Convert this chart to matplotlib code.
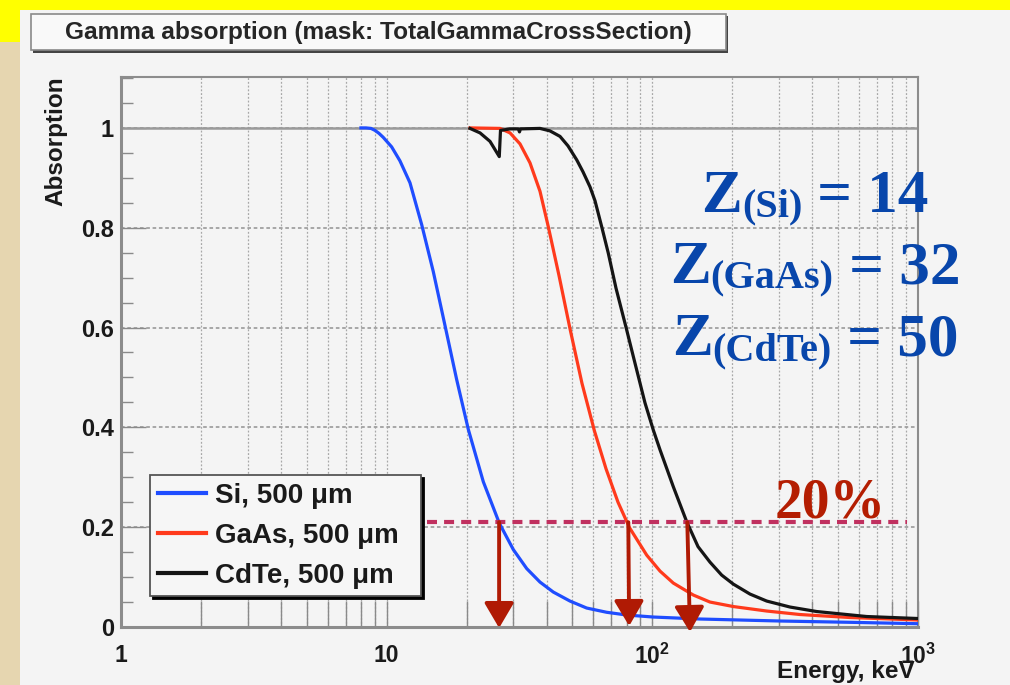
import numpy as np
import matplotlib
matplotlib.use("Agg")
import matplotlib.pyplot as plt
from matplotlib.patches import Rectangle
from matplotlib.ticker import FixedLocator, FixedFormatter, LogLocator, MultipleLocator, NullFormatter
from matplotlib.transforms import IdentityTransform

# ---------------- data ----------------
si_energy = [8.0, 8.36, 8.73, 9.04, 9.36, 9.71, 10.44, 11.22, 12.24, 13.55, 14.98, 16.58, 18.34,
             20.29, 23.11, 26.55, 29.98, 33.67, 37.77, 42.39, 48.97, 56.6, 67.3, 80.1, 100.6,
             151.1, 302.4, 554.6, 1000]
si_abs = [1.0, 1.0, 0.999, 0.995, 0.989, 0.981, 0.962, 0.934, 0.890, 0.806, 0.712, 0.604, 0.496,
          0.396, 0.291, 0.208, 0.155, 0.117, 0.090, 0.070, 0.052, 0.038, 0.0295, 0.024, 0.020,
          0.016, 0.012, 0.0094, 0.0066]

gaas_energy = [20.59, 26.71, 29.13, 31.76, 34.63, 37.77, 40.59, 44.54, 48.97, 54.36, 60.46,
               66.94, 74.27, 82.04, 95.24, 106.9, 119.95, 142.7, 164.8, 201.7, 269.4, 359.6,
               554.6, 1000]
gaas_abs = [1.0, 0.999, 0.990, 0.968, 0.930, 0.873, 0.802, 0.704, 0.598, 0.488, 0.394, 0.317,
            0.250, 0.199, 0.144, 0.112, 0.088, 0.064, 0.050, 0.041, 0.032, 0.025, 0.019, 0.014]

cdte_energy = [20.59, 22.46, 24.49, 26.54, 26.82, 29.13, 31.3, 31.62, 31.89, 37.77, 41.19,
               44.92, 48.14, 51.92, 54.83, 58.25, 60.84, 64.48, 68.27, 72.98, 80.09, 84.8,
               93.84, 100.8, 106.9, 119.95, 134.7, 148.6, 164.8, 182.4, 201.7, 233.1, 269.4,
               329.8, 415.6, 641, 1000]
cdte_abs = [0.999, 0.990, 0.973, 0.9425, 0.995, 0.998, 0.998, 0.992, 0.998, 0.999, 0.994,
            0.983, 0.964, 0.936, 0.912, 0.882, 0.854, 0.802, 0.749, 0.679, 0.595, 0.542,
            0.449, 0.395, 0.355, 0.281, 0.211, 0.161, 0.130, 0.104, 0.086, 0.066, 0.052,
            0.040, 0.031, 0.021, 0.017]

series_labels = ["Si, 500 \u03bcm", "GaAs, 500 \u03bcm", "CdTe, 500 \u03bcm"]
series_colors = ["#1f4dff", "#ff3a1c", "#151515"]

threshold = 0.21
threshold_span = [14.2, 906]
arrow_top_energy = [26.5, 81.2, 135.4]
arrow_tip_energy = [26.5, 81.8, 138.6]
arrow_tip_abs = [-0.002, 0.002, -0.01]
threshold_label = "20%"
threshold_label_energy = 466
threshold_label_abs = 0.22

z_subs = ["(Si)", "(GaAs)", "(CdTe)"]
z_values = ["14", "32", "50"]

x_ticks = [1, 10, 100, 1000]
x_tick_labels = ["1", "10", r"$\mathbf{10^{2}}$", r"$\mathbf{10^{3}}$"]
y_ticks = [0, 0.2, 0.4, 0.6, 0.8, 1.0]
y_tick_labels = ["0", "0.2", "0.4", "0.6", "0.8", "1"]

title_text = "Gamma absorption (mask: TotalGammaCrossSection)"
x_label = "Energy, keV"
y_label = "Absorption"

# ---------------- style ----------------
plt.rcParams["font.family"] = ["Liberation Sans", "DejaVu Sans"]
plt.rcParams["mathtext.fontset"] = "custom"
plt.rcParams["mathtext.rm"] = "Liberation Sans"
plt.rcParams["mathtext.bf"] = "Liberation Sans:bold"

W, H = 1010, 685
DPI = 100
fig = plt.figure(figsize=(W / DPI, H / DPI), dpi=DPI)
fig.patch.set_facecolor("#f4f4f4")


def fx(px):
    return px / W


def fy(py):
    return 1 - py / H


# page decorations
fig.add_artist(Rectangle((0, fy(10)), 1, 10 / H, transform=fig.transFigure,
                         facecolor="#ffff00", edgecolor="none", zorder=0))
fig.add_artist(Rectangle((0, fy(42)), fx(20), 42 / H, transform=fig.transFigure,
                         facecolor="#ffff00", edgecolor="none", zorder=0))
fig.add_artist(Rectangle((0, 0), fx(20), fy(42), transform=fig.transFigure,
                         facecolor="#e6d6b0", edgecolor="none", zorder=0))

# title box with shadow
fig.add_artist(Rectangle((fx(33), fy(53)), fx(728 - 33), (53 - 16) / H, transform=fig.transFigure,
                         facecolor="#444444", edgecolor="none", zorder=1))
fig.add_artist(Rectangle((fx(31), fy(50)), fx(726 - 31), (50 - 14) / H, transform=fig.transFigure,
                         facecolor="#f9f9f9", edgecolor="#8a8a8a", lw=1.2, zorder=2))
fig.text(fx(378), fy(33), title_text, ha="center", va="center", fontsize=17.6,
         fontweight="bold", color="#262626", zorder=3)

# axes
ax = fig.add_axes([fx(121), fy(627), fx(918 - 121), (627 - 77) / H])
ax.set_facecolor("#f4f4f4")
ax.set_xscale("log")
ax.set_xlim(1, 1000)
ax.set_ylim(0, 1.102)

for e, a, c, lab in zip([si_energy, gaas_energy, cdte_energy],
                        [si_abs, gaas_abs, cdte_abs], series_colors, series_labels):
    ax.plot(e, a, color=c, lw=2.3, label=lab, zorder=3)

ax.axhline(1.0, color="#9a9a9a", lw=1.8, zorder=1.5)

ax.xaxis.set_major_locator(FixedLocator(x_ticks))
ax.xaxis.set_major_formatter(FixedFormatter(x_tick_labels))
ax.xaxis.set_minor_locator(LogLocator(base=10, subs=np.arange(2, 10)))
ax.xaxis.set_minor_formatter(NullFormatter())
ax.yaxis.set_major_locator(FixedLocator(y_ticks))
ax.yaxis.set_major_formatter(FixedFormatter(y_tick_labels))
ax.yaxis.set_minor_locator(MultipleLocator(0.05))

ax.grid(True, which="both", axis="x", color="#a8a8a8", linestyle=(0, (1.5, 1.5)), lw=0.9)
ax.grid(True, which="major", axis="y", color="#a0a0a0", linestyle=(0, (2, 1.5)), lw=1.3)
ax.set_axisbelow(True)

ax.tick_params(axis="both", which="both", direction="in", color="#8a8a8a", width=1.0,
               top=False, right=False)
ax.tick_params(axis="x", which="both", length=19, pad=12, labelsize=16.5)
ax.tick_params(axis="y", which="major", length=18, pad=5, labelsize=17)
ax.tick_params(axis="y", which="minor", length=8.5)
for lbl in ax.get_xticklabels() + ax.get_yticklabels():
    lbl.set_fontweight("bold")
    lbl.set_color("#1a1a1a")

for sp in ax.spines.values():
    sp.set_color("#8c8c8c")
    sp.set_linewidth(2.2)
ax.spines["top"].set_linewidth(1.5)
ax.spines["right"].set_linewidth(1.5)

# axis labels
fig.text(fx(56), fy(76), y_label, rotation=90, ha="center", va="top", fontsize=17.5,
         fontweight="bold", color="#1a1a1a")
fig.text(fx(915), fy(678), x_label, ha="right", va="baseline", fontsize=17.5,
         fontweight="bold", color="#1a1a1a")

# legend
leg = ax.legend(loc="upper left",
                bbox_to_anchor=(fx(150), fy(595), fx(421 - 150), (595 - 475) / H),
                bbox_transform=fig.transFigure, mode="expand",
                fontsize=20, frameon=True, fancybox=False, framealpha=1,
                edgecolor="#555555", facecolor="#f6f6f6",
                shadow={"color": "black", "alpha": 1.0},
                handlelength=1.73, handletextpad=0.32, labelspacing=0.5,
                borderpad=0.28, borderaxespad=0)
leg.get_frame().set_linewidth(1.3)
for t in leg.get_texts():
    t.set_fontweight("bold")
    t.set_color("#1a1a1a")
for h in leg.get_lines():
    h.set_linewidth(3)

# 20% threshold line
ax.plot(threshold_span, [threshold, threshold], color="#c0305f", lw=3.0,
        linestyle=(0, (2.4, 1.7)), zorder=4, solid_capstyle="butt")
ax.text(threshold_label_energy, threshold_label_abs, threshold_label, ha="center", va="baseline",
        fontsize=40, fontweight="bold", family="Liberation Serif", color="#b41e02", zorder=5)

# arrows
for e0, e1, y1 in zip(arrow_top_energy, arrow_tip_energy, arrow_tip_abs):
    ax.annotate("", xy=(e1, y1), xytext=(e0, threshold),
                arrowprops=dict(arrowstyle="-|>,head_length=0.85,head_width=0.5",
                                color="#b01a04", lw=2.8, mutation_scale=18,
                                shrinkA=0, shrinkB=0),
                annotation_clip=False, zorder=6)

# Z labels (manual sub-scripts)
renderer = fig.canvas.get_renderer()
z_color = "#0846ab"
baselines = [211.7, 283.0, 355.0]
center_x = 815
for sub, val, base in zip(z_subs, z_values, baselines):
    yb = H - base
    t1 = fig.text(0, 0, "Z", fontsize=44, fontweight="bold", family="Liberation Serif",
                  color=z_color, transform=IdentityTransform(), va="baseline", ha="left")
    t2 = fig.text(0, 0, sub, fontsize=29, fontweight="bold", family="Liberation Serif",
                  color=z_color, transform=IdentityTransform(), va="baseline", ha="left")
    t3 = fig.text(0, 0, " = " + val, fontsize=44, fontweight="bold", family="Liberation Serif",
                  color=z_color, transform=IdentityTransform(), va="baseline", ha="left")
    w1 = t1.get_window_extent(renderer).width
    w2 = t2.get_window_extent(renderer).width
    w3 = t3.get_window_extent(renderer).width
    left = center_x - (w1 + w2 + w3) / 2
    t1.set_position((left, yb))
    t2.set_position((left + w1, yb - 5))
    t3.set_position((left + w1 + w2, yb))

fig.savefig("out.png", dpi=DPI, facecolor=fig.get_facecolor())
